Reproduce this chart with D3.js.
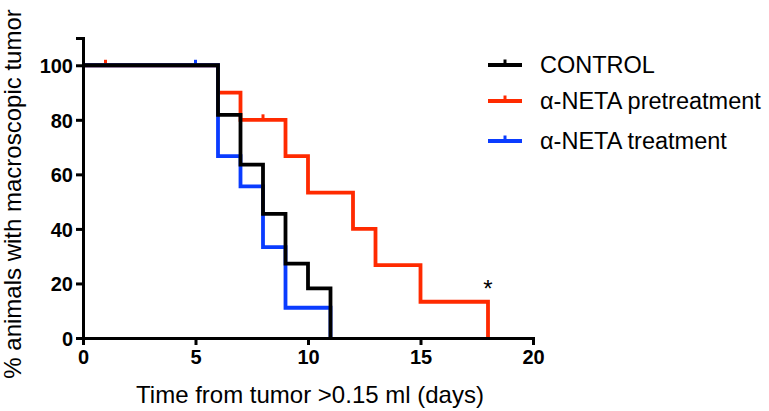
<!DOCTYPE html>
<html><head><meta charset="utf-8">
<script src="https://cdn.jsdelivr.net/npm/d3@7"></script>
<style>body{margin:0;background:#fff}svg{display:block;font-family:"Liberation Sans",Arial,sans-serif}</style>
</head><body><svg id="c" width="769" height="411"></svg>
<script>
const seriesNames = ["CONTROL", "α-NETA pretreatment", "α-NETA treatment"];
const seriesColors = ["#000000", "#ff2a00", "#0a3cff"];
// step curves: [time, % surviving]
const controlSteps = [[0,100],[6,81.8],[7,63.6],[8,45.5],[9,27.3],[10,18.2],[11,0]];
const pretreatSteps = [[0,100],[6,90],[7,80],[9,66.7],[10,53.3],[12,40],[13,26.7],[15,13.3],[18,0]];
const treatSteps = [[0,100],[6,66.7],[7,55.6],[8,33.3],[9,11.1],[11,0]];
const pretreatCensor = [[1,100],[8,80]];
const treatCensor = [[5,100]];
const xTicks = [0,5,10,15,20];
const yTicks = [0,20,40,60,80,100];
const xLabel = "Time from tumor >0.15 ml (days)";
const yLabel = "% animals with macroscopic tumor";

const svg = d3.select("#c");
const x = d3.scaleLinear().domain([0,20]).range([83,533]);
const y = d3.scaleLinear().domain([0,110]).range([338,38]);

const line = d3.line().x(d=>x(d[0])).y(d=>y(d[1])).curve(d3.curveStepAfter);
const draw = [[pretreatSteps,1,pretreatCensor],[treatSteps,2,treatCensor],[controlSteps,0,[]]];
draw.forEach(([steps,i,cens])=>{
  svg.append("path").attr("d",line(steps)).attr("fill","none")
    .attr("stroke",seriesColors[i]).attr("stroke-width",3.8).attr("stroke-linejoin","miter").attr("stroke-linecap","butt");
  svg.selectAll(null).data(cens).enter().append("line")
    .attr("x1",d=>x(d[0])).attr("x2",d=>x(d[0]))
    .attr("y1",d=>y(d[1])).attr("y2",d=>y(d[1])-5.5)
    .attr("stroke",seriesColors[i]).attr("stroke-width",3);
});

const xa = svg.append("g").attr("transform","translate(0,338)")
  .call(d3.axisBottom(x).tickValues(xTicks).tickSize(7).tickPadding(5));
const ya = svg.append("g").attr("transform","translate(83,0)")
  .call(d3.axisLeft(y).tickValues(yTicks).tickSize(7).tickPadding(3));
[xa,ya].forEach(a=>{
  a.select(".domain").attr("stroke","#000").attr("stroke-width",3);
  a.selectAll(".tick line").attr("stroke","#000").attr("stroke-width",3);
  a.selectAll(".tick text").attr("font-family","'Liberation Sans',Arial,sans-serif")
    .attr("font-size",20).attr("font-weight","bold").attr("fill","#000");
});
ya.selectAll(".tick text").attr("dy","0.36em");

svg.append("text").attr("x",310).attr("y",403).attr("text-anchor","middle")
  .attr("font-size",24).attr("fill","#000").text(xLabel);
svg.append("text").attr("transform","translate(21,194) rotate(-90)").attr("text-anchor","middle")
  .attr("font-size",24).attr("fill","#000").text(yLabel);

// asterisk
svg.append("text").attr("x",x(18)).attr("y",y(15)).attr("text-anchor","middle")
  .attr("font-size",24).attr("fill","#000").text("*");

// legend
const legY = [65,101,141];
const lg = svg.append("g");
seriesNames.forEach((n,i)=>{
  lg.append("line").attr("x1",488).attr("x2",522).attr("y1",legY[i]).attr("y2",legY[i])
    .attr("stroke",seriesColors[i]).attr("stroke-width",4);
  lg.append("line").attr("x1",505).attr("x2",505).attr("y1",legY[i]).attr("y2",legY[i]-5.5)
    .attr("stroke",seriesColors[i]).attr("stroke-width",3);
  lg.append("text").attr("x",540).attr("y",legY[i]).attr("dy","0.35em")
    .attr("font-size",23.5).attr("fill","#000").text(n);
});
</script></body></html>
